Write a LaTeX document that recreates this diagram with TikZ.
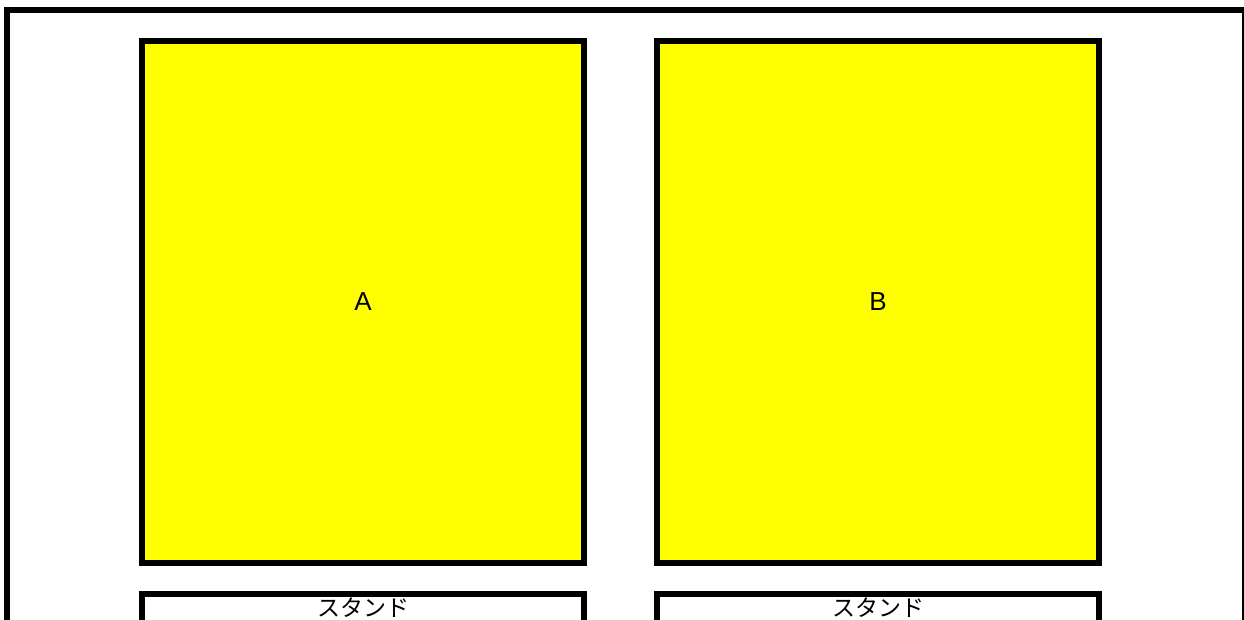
\documentclass[tikz,border=0pt]{standalone}
\usepackage{fontspec}
\setmainfont{Liberation Sans}
\newfontfamily\jpfont{Noto Sans CJK JP}
\usetikzlibrary{positioning}
\definecolor{panelyellow}{RGB}{255,255,0}
\begin{document}
\begin{tikzpicture}[x=1pt,y=-1pt]
    % Node styles
    \tikzset{panel/.style={draw,line width=6pt,fill=panelyellow,minimum width=442pt,minimum height=522pt,inner sep=0pt,font=\fontsize{26}{30}\selectfont},
             stand box/.style={draw,line width=6pt,fill=white,minimum width=442pt,minimum height=100pt,inner sep=0pt},
             stand text/.style={inner sep=0pt,font=\jpfont\fontsize{23}{26}\selectfont}}

    \clip (0,0) rectangle (1244,619);
    \fill[white] (0,0) rectangle (1244,619);

    % --- Outer frame (runs off the right and bottom edges) ---
    \draw[line width=6pt] (7,660) -- (7,10) -- (1245,10) -- (1245,660);

    % --- Panels ---
    \node[panel] (boxA) at (363,302) {A};
    \node[panel] (boxB) at (878,302) {B};

    % --- Stands below the panels ---
    \node[stand box] (standA) at (363,644) {};
    \node[stand box] (standB) at (878,644) {};
    \node[stand text, below=7pt of standA.north] (labelA) {スタンド};
    \node[stand text, below=7pt of standB.north] (labelB) {スタンド};

  \end{tikzpicture}
\end{document}
